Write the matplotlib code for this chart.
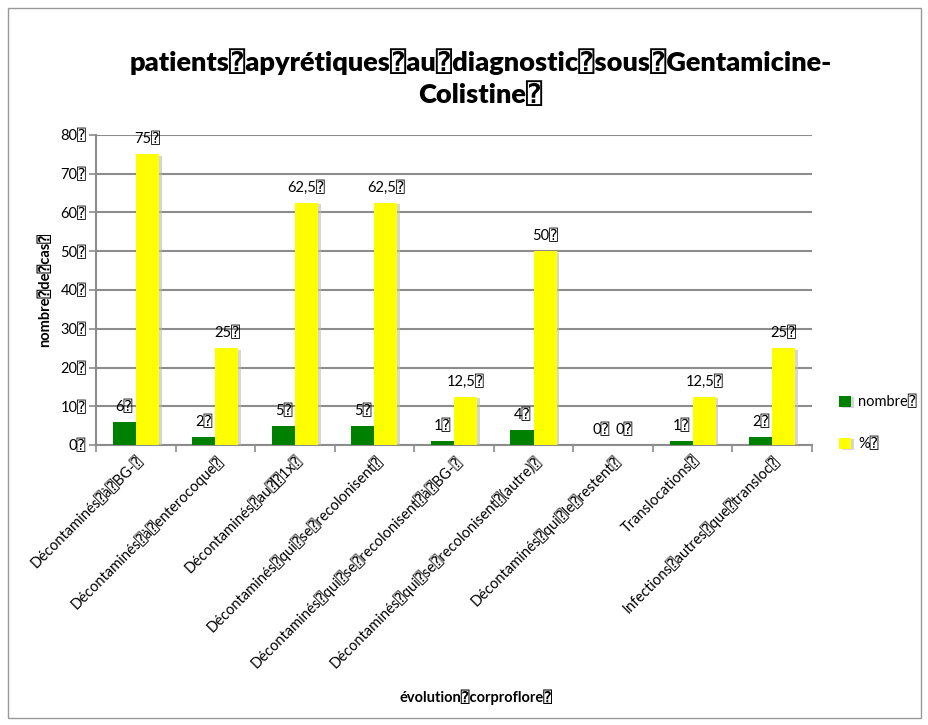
import matplotlib.pyplot as plt
import matplotlib.patheffects as pe
import numpy as np

Q = '\u2370'  # missing-glyph box as shown in the chart

categories = ['Décontaminés à BG-', 'Décontaminés à enterocoque', 'Décontaminés au  1x',
              'Décontaminés qui se recolonisent', 'Décontaminés qui se recolonisent à BG-',
              'Décontaminés qui se recolonisent (autre)', 'Décontaminés qui le restent',
              'Translocations', 'Infections autres que transloc']
nombre = [6, 2, 5, 5, 1, 4, 0, 1, 2]
pourcent = [75, 25, 62.5, 62.5, 12.5, 50, 0, 12.5, 25]
yticks = [0, 10, 20, 30, 40, 50, 60, 70, 80]


def q(s):
    return s.replace(' ', Q) + Q


def fmt(v):
    return (('%g' % v).replace('.', ',')) + Q


plt.rcParams['font.family'] = ['Lato', 'DejaVu Sans', 'DejaVu Sans Mono']

fig = plt.figure(figsize=(9.29, 7.25), dpi=100)
ax = fig.add_axes([0.1033, 0.3862, 0.7707, 0.4276])

x = np.arange(len(categories))
w = 0.29
shadow = [pe.SimplePatchShadow(offset=(2, -1), shadow_rgbFace='#bbbbbb', alpha=0.6), pe.Normal()]
b1 = ax.bar(x - w / 2, nombre, w, color='#008000', label=q('nombre'), zorder=3)
b2 = ax.bar(x + w / 2, pourcent, w, color='#FFFF00', label=q('%'), zorder=3)
for bar in list(b1) + list(b2):
    bar.set_path_effects(shadow)

for xi, v in zip(x - w / 2, nombre):
    ax.text(xi, v + 2, fmt(v), ha='center', va='bottom', fontsize=10.5)
for xi, v in zip(x + w / 2, pourcent):
    ax.text(xi, v + 2, fmt(v), ha='center', va='bottom', fontsize=10.5)

ax.set_xlim(-0.5, len(categories) - 0.5)
ax.set_ylim(0, 80)
ax.set_yticks(yticks)
ax.set_yticklabels([q(str(t)) for t in yticks], fontsize=10.5)
ax.yaxis.grid(True, color='#8c8c8c', linewidth=1.5, zorder=0)
ax.set_axisbelow(True)
ax.set_xticks(np.arange(len(categories) + 1) - 0.5, minor=False)
ax.set_xticklabels([])
ax.set_xticks(x, minor=True)
ax.set_xticklabels([q(c) for c in categories], minor=True, rotation=45,
                   ha='right', va='top', rotation_mode='anchor', fontsize=10.5)
ax.tick_params(axis='x', which='minor', length=0, pad=6)
ax.tick_params(axis='x', which='major', length=5, color='#8c8c8c', width=1.2)
ax.tick_params(axis='y', length=5, color='#8c8c8c', width=1.2, pad=2)
for s in ['top', 'right']:
    ax.spines[s].set_visible(False)
for s in ['left', 'bottom']:
    ax.spines[s].set_color('#8c8c8c')
    ax.spines[s].set_linewidth(1.5)

ax.set_ylabel(q('nombre de cas'), fontsize=10.5, fontweight='bold', labelpad=6)
fig.text(0.512, 0.038, q('évolution corproflore'), ha='center', va='center',
         fontsize=10.5, fontweight='bold')
fig.text(0.517, 0.893, 'patients' + Q + 'apyrétiques' + Q + 'au' + Q + 'diagnostic' + Q + 'sous' + Q
         + 'Gentamicine-\nColistine' + Q, ha='center', va='center', fontsize=19.5,
         fontweight='heavy', linespacing=1.3)

ax.legend(loc='center left', bbox_to_anchor=(1.02, 0.07), frameon=False, fontsize=10.5,
          handlelength=0.8, handleheight=0.8, labelspacing=1.9, handletextpad=0.5)

fig.patches.append(plt.Rectangle((0.009, 0.01), 0.982, 0.979, transform=fig.transFigure,
                                 fill=False, edgecolor='#999999', linewidth=1))

fig.savefig('out.png', dpi=100)
